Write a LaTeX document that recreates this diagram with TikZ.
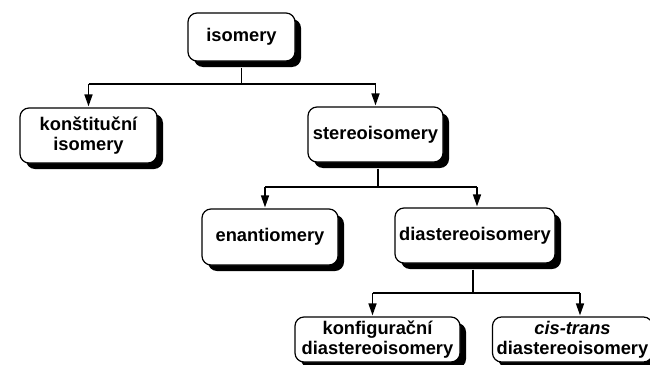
\documentclass[tikz,border=0pt]{standalone}
\usepackage{fontspec}
\setmainfont{Liberation Sans}
\usetikzlibrary{shadows,arrows.meta}
\begin{document}
\begin{tikzpicture}[x=1pt,y=-1pt,
  box/.style={draw=black,line width=1.2pt,fill=white,rounded corners=9pt,
    inner sep=0pt,align=center,
    font=\fontsize{18.3}{20}\selectfont\bfseries,
    drop shadow={shadow xshift=6pt,shadow yshift=-6pt,fill=black,opacity=1}},
  conn/.style={line width=1.6pt},
  arr/.style={conn,-{Triangle[length=12pt,width=8pt]},shorten >=1pt}]
\useasboundingbox (0,0) rectangle (650,364);
\clip (0,0) rectangle (650,364);
\node[box,minimum width=107pt,minimum height=48pt] (iso) at (241.5,37) {isomery};
\node[box,minimum width=137pt,minimum height=55pt] (kon) at (88.5,135.5) {konštituční\\isomery};
\node[box,minimum width=135pt,minimum height=55pt] (ste) at (375.5,134.5) {stereoisomery};
\node[box,minimum width=136pt,minimum height=56pt] (ena) at (270,237) {enantiomery};
\node[box,minimum width=160pt,minimum height=55pt] (dia) at (475,235.5) {diastereoisomery};
\node[box,minimum width=165pt,minimum height=45pt] (kfg) at (377.5,339.5) {konfigurační\\diastereoisomery};
\node[box,minimum width=160pt,minimum height=45pt] (cis) at (572.5,339.5) {\textit{cis-trans}\\diastereoisomery};
\coordinate (b1) at (0,84);
\coordinate (b2) at (0,187);
\coordinate (b3) at (0,293);
% level 1
\draw[conn] ([yshift=-6pt]iso.south) -- (iso.south |- b1);
\draw[conn] (b1 -| kon.north) -- (b1 -| ste.north);
\draw[arr] (b1 -| kon.north) -- (kon.north);
\draw[arr] (b1 -| ste.north) -- (ste.north);
% level 2
\draw[conn] ([xshift=2.5pt,yshift=-6pt]ste.south) -- ([xshift=2.5pt]ste.south |- b2);
\coordinate (ena1) at ([xshift=-5pt]ena.north);
\coordinate (dia1) at ([xshift=2pt]dia.north);
\draw[conn] (b2 -| ena1) -- (b2 -| dia1);
\draw[arr] (b2 -| ena1) -- (ena1);
\draw[arr] (b2 -| dia1) -- (dia1);
% level 3
\draw[conn] ([xshift=-2pt,yshift=-6pt]dia.south) -- ([xshift=-2pt]dia.south |- b3);
\coordinate (kfg1) at ([xshift=-5pt]kfg.north);
\coordinate (cis1) at ([xshift=7.5pt]cis.north);
\draw[conn] (b3 -| kfg1) -- (b3 -| cis1);
\draw[arr] (b3 -| kfg1) -- (kfg1);
\draw[arr] (b3 -| cis1) -- (cis1);
\end{tikzpicture}
\end{document}
